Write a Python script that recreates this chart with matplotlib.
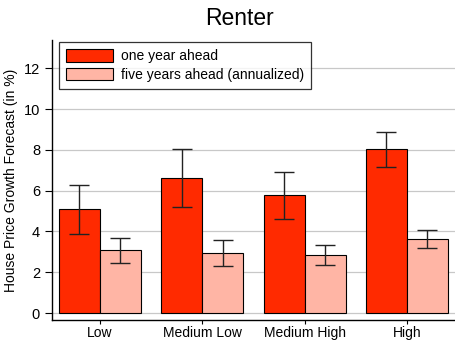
import numpy as np
import matplotlib.pyplot as plt

plt.rcParams['font.family'] = ['Liberation Sans', 'DejaVu Sans']

# Daten
categories = ["Low", "Medium Low", "Medium High", "High"]
one_year = [5.08, 6.62, 5.77, 8.02]
one_year_lo = [3.86, 5.21, 4.59, 7.14]
one_year_hi = [6.29, 8.02, 6.93, 8.89]
five_year = [3.07, 2.93, 2.84, 3.61]
five_year_lo = [2.47, 2.30, 2.34, 3.20]
five_year_hi = [3.69, 3.56, 3.35, 4.05]

x = np.arange(len(categories))
w = 0.40

fig = plt.figure(figsize=(4.55, 3.43), dpi=100)
ax = fig.add_axes([0.114, 0.067, 0.886, 0.816])

ax.grid(axis='y', color='#c8c8c8', linewidth=0.9, zorder=0)

err1 = [np.array(one_year) - np.array(one_year_lo), np.array(one_year_hi) - np.array(one_year)]
err5 = [np.array(five_year) - np.array(five_year_lo), np.array(five_year_hi) - np.array(five_year)]

ax.bar(x - w / 2, one_year, w, color='#ff2a00', edgecolor='black', linewidth=0.8,
       label='one year ahead', zorder=2)
ax.bar(x + w / 2, five_year, w, color='#ffb5a5', edgecolor='black', linewidth=0.8,
       label='five years ahead (annualized)', zorder=2)
ax.errorbar(x - w / 2, one_year, yerr=err1, fmt='none', ecolor='#222222',
            elinewidth=1.0, capsize=7.5, capthick=1.0, zorder=3)
ax.errorbar(x + w / 2, five_year, yerr=err5, fmt='none', ecolor='#222222',
            elinewidth=1.0, capsize=7.5, capthick=1.0, zorder=3)

ax.set_xlim(-0.47, 3.47)
ax.set_ylim(-0.34, 13.38)
ax.set_yticks(range(0, 13, 2))
ax.set_xticks(x)
ax.set_xticklabels(categories, fontsize=10)
ax.tick_params(axis='y', labelsize=10.5, direction='out', length=5)
ax.tick_params(axis='x', direction='out', length=3, pad=1)
for s in ['top', 'right']:
    ax.spines[s].set_visible(False)
ax.spines['left'].set_linewidth(1.0)
ax.spines['bottom'].set_linewidth(1.0)

ax.set_ylabel("House Price Growth Forecast (in %)", fontsize=10)
fig.text(0.527, 0.945, "Renter", ha='center', va='center', fontsize=16.5)

leg = ax.legend(loc='upper left', bbox_to_anchor=(0.012, 1.0), fontsize=10,
                frameon=True, fancybox=False, edgecolor='black',
                handlelength=3.4, handleheight=1.0, borderpad=0.5,
                labelspacing=0.35, handletextpad=0.6, borderaxespad=0.15)
leg.get_frame().set_linewidth(0.9)

fig.savefig("out.png", dpi=100)
